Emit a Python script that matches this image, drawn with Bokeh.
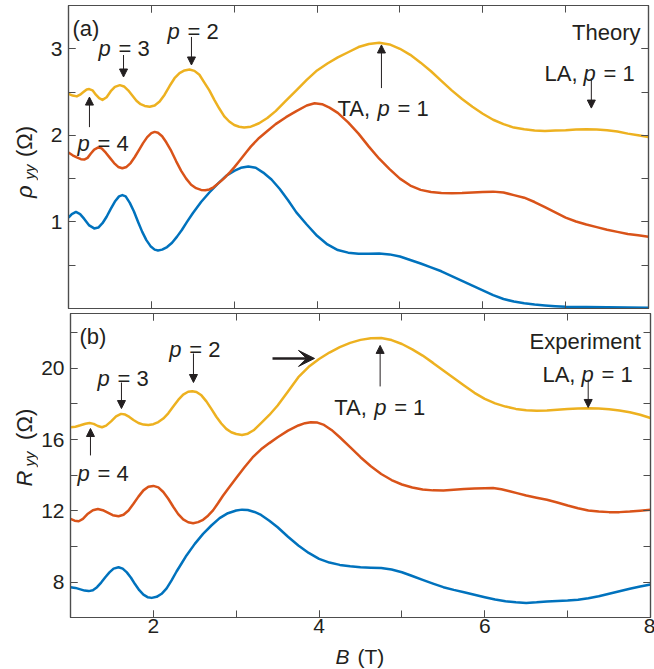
from math import pi
from bokeh.plotting import figure
from bokeh.models import (Range1d, LinearAxis, FixedTicker, Label, Arrow,
                          NormalHead, VeeHead)
from bokeh.layouts import column, row
from bokeh.embed import file_html
from bokeh.resources import INLINE

FONT = "Liberation Sans"
TXT = "#231f20"
AX = "#4d4d4d"
BLUE, RED, YELLOW = "#0072BD", "#D95319", "#EDB120"

# ---------------- data: (a) theory, rho_yy (Ohm) ----------------
th_yel_B = [1.00, 1.05, 1.10, 1.14, 1.18, 1.22, 1.25, 1.29, 1.33, 1.37, 1.41, 1.46, 1.51, 1.56, 1.62,
            1.67, 1.72, 1.77, 1.82, 1.87, 1.92, 1.98, 2.04, 2.10, 2.16, 2.22, 2.28, 2.34, 2.40, 2.46,
            2.52, 2.58, 2.64, 2.70, 2.76, 2.82, 2.88, 2.94, 3.00, 3.06, 3.12, 3.20, 3.30, 3.40, 3.50,
            3.625, 3.75, 3.875, 4.00, 4.125, 4.25, 4.375, 4.50, 4.625, 4.75, 4.875, 5.00, 5.125, 5.25,
            5.375, 5.50, 5.625, 5.75, 5.875, 6.00, 6.125, 6.25, 6.375, 6.50, 6.625, 6.75, 6.875, 7.00,
            7.125, 7.25, 7.375, 7.50, 7.625, 7.75, 7.875, 8.00]
th_yel_R = [2.48, 2.46, 2.45, 2.47, 2.50, 2.53, 2.535, 2.52, 2.47, 2.43, 2.41, 2.44, 2.51, 2.56, 2.58,
            2.565, 2.52, 2.46, 2.40, 2.36, 2.34, 2.33, 2.345, 2.39, 2.47, 2.57, 2.66, 2.72, 2.75, 2.76,
            2.745, 2.70, 2.61, 2.52, 2.41, 2.31, 2.22, 2.16, 2.12, 2.10, 2.09, 2.10, 2.14, 2.20, 2.28,
            2.40, 2.52, 2.64, 2.75, 2.83, 2.90, 2.96, 3.02, 3.055, 3.07, 3.05, 3.00, 2.93, 2.84,
            2.74, 2.63, 2.52, 2.42, 2.33, 2.25, 2.18, 2.13, 2.09, 2.07, 2.055, 2.05, 2.055, 2.06,
            2.068, 2.07, 2.068, 2.06, 2.045, 2.02, 2.00, 1.98]

th_red_B = [1.00, 1.05, 1.10, 1.15, 1.19, 1.23, 1.27, 1.31, 1.36, 1.40, 1.45, 1.50, 1.55, 1.60, 1.65,
            1.70, 1.75, 1.80, 1.85, 1.90, 1.95, 2.00, 2.04, 2.08, 2.13, 2.18, 2.24, 2.30, 2.36, 2.42,
            2.48, 2.54, 2.60, 2.65, 2.70, 2.75, 2.80, 2.85, 2.90, 2.95, 3.00, 3.05, 3.10, 3.15, 3.20,
            3.30, 3.40, 3.50, 3.625, 3.75, 3.875, 3.97, 4.06, 4.15, 4.25, 4.375, 4.50, 4.625, 4.75,
            4.875, 5.00, 5.125, 5.25, 5.375, 5.50, 5.625, 5.75, 5.875, 6.00, 6.125, 6.25, 6.375, 6.50,
            6.625, 6.75, 6.875, 7.00, 7.125, 7.25, 7.375, 7.50, 7.625, 7.75, 7.875, 8.00]
th_red_R = [1.80, 1.77, 1.745, 1.725, 1.72, 1.74, 1.79, 1.835, 1.86, 1.85, 1.80, 1.74, 1.68, 1.635, 1.62,
            1.635, 1.68, 1.75, 1.83, 1.91, 1.98, 2.025, 2.04, 2.03, 1.99, 1.92, 1.82, 1.70, 1.59, 1.50,
            1.43, 1.39, 1.37, 1.365, 1.375, 1.40, 1.44, 1.48, 1.525, 1.575, 1.63, 1.69, 1.75, 1.81, 1.87,
            1.97, 2.05, 2.13, 2.21, 2.28, 2.345, 2.37, 2.36, 2.32, 2.26, 2.15, 2.02, 1.87, 1.73,
            1.61, 1.50, 1.42, 1.37, 1.345, 1.333, 1.33, 1.333, 1.34, 1.347, 1.35, 1.34, 1.31, 1.28,
            1.23, 1.17, 1.11, 1.05, 1.005, 0.97, 0.94, 0.91, 0.885, 0.86, 0.845, 0.83]

th_blu_B = [1.00, 1.04, 1.09, 1.14, 1.19, 1.25, 1.31, 1.36, 1.41, 1.46, 1.51, 1.56, 1.61, 1.65, 1.69,
            1.74, 1.79, 1.84, 1.89, 1.94, 1.99, 2.04, 2.08, 2.13, 2.19, 2.25, 2.31, 2.37, 2.43, 2.50,
            2.60, 2.70, 2.80, 2.90, 3.00, 3.08, 3.17, 3.26, 3.35, 3.45, 3.55, 3.65, 3.75, 3.875, 4.00,
            4.125, 4.25, 4.375, 4.50, 4.625, 4.75, 4.875, 5.00, 5.125, 5.25, 5.375, 5.50, 5.625, 5.75,
            5.875, 6.00, 6.125, 6.25, 6.375, 6.50, 6.625, 6.75, 6.875, 7.00, 7.25, 7.50, 7.75, 8.00]
th_blu_R = [1.05, 1.09, 1.115, 1.09, 1.035, 0.96, 0.925, 0.935, 0.985, 1.06, 1.15, 1.235, 1.295, 1.31, 1.295,
            1.22, 1.12, 1.00, 0.885, 0.79, 0.72, 0.68, 0.67, 0.68, 0.71, 0.76, 0.83, 0.91, 1.00, 1.10,
            1.23, 1.34, 1.44, 1.53, 1.59, 1.625, 1.64, 1.625, 1.57, 1.49, 1.38, 1.25, 1.11, 0.97, 0.84,
            0.74, 0.675, 0.645, 0.632, 0.633, 0.635, 0.625, 0.60, 0.56, 0.52, 0.475, 0.43, 0.375, 0.32,
            0.265, 0.21, 0.155, 0.11, 0.08, 0.06, 0.045, 0.035, 0.027, 0.02, 0.016, 0.014, 0.012, 0.01]

# ---------------- data: (b) experiment, R_yy (Ohm) ----------------
ex_yel_B = [1.00, 1.06, 1.12, 1.18, 1.23, 1.28, 1.33, 1.38, 1.43, 1.49, 1.55, 1.61, 1.66, 1.71, 1.76,
            1.82, 1.88, 1.94, 2.00, 2.06, 2.12, 2.18, 2.24, 2.30, 2.36, 2.42, 2.47, 2.52, 2.58, 2.64,
            2.70, 2.76, 2.82, 2.88, 2.94, 3.00, 3.07, 3.14, 3.21, 3.30, 3.40, 3.50, 3.625, 3.75, 3.875,
            4.00, 4.125, 4.25, 4.375, 4.50, 4.625, 4.75, 4.875, 5.00, 5.125, 5.25, 5.375, 5.50, 5.625,
            5.75, 5.875, 6.00, 6.125, 6.25, 6.375, 6.50, 6.625, 6.75, 6.875, 7.00, 7.125, 7.25, 7.375,
            7.50, 7.625, 7.75, 7.875, 8.00]
ex_yel_R = [16.69, 16.72, 16.80, 16.89, 16.93, 16.88, 16.76, 16.69, 16.78, 17.02, 17.30, 17.44, 17.40,
            17.27, 17.10, 16.93, 16.84, 16.82, 16.86, 16.98, 17.18, 17.47, 17.85, 18.22, 18.52, 18.68,
            18.71, 18.67, 18.48, 18.14, 17.72, 17.28, 16.90, 16.60, 16.41, 16.31, 16.26, 16.33, 16.52,
            16.92, 17.38, 17.91, 18.70, 19.50, 20.08, 20.52, 20.88, 21.18, 21.42, 21.59, 21.68, 21.70,
            21.58, 21.36, 21.06, 20.71, 20.30, 19.87, 19.45, 19.03, 18.62, 18.28, 18.03, 17.85, 17.72,
            17.64, 17.62, 17.63, 17.67, 17.71, 17.74, 17.76, 17.74, 17.70, 17.63, 17.53, 17.39, 17.21]

ex_red_B = [1.00, 1.05, 1.10, 1.15, 1.21, 1.27, 1.33, 1.39, 1.45, 1.51, 1.58, 1.64, 1.70, 1.76, 1.82,
            1.88, 1.94, 2.00, 2.06, 2.12, 2.18, 2.24, 2.30, 2.36, 2.42, 2.48, 2.54, 2.60, 2.66, 2.72,
            2.78, 2.84, 2.90, 2.95, 3.00, 3.10, 3.20, 3.30, 3.40, 3.50, 3.625, 3.75, 3.83, 3.90, 3.98,
            4.06, 4.15, 4.25, 4.375, 4.50, 4.625, 4.75, 4.875, 5.00, 5.125, 5.25, 5.375, 5.50, 5.625,
            5.75, 5.875, 6.00, 6.10, 6.20, 6.30, 6.40, 6.50, 6.625, 6.75, 6.875, 7.00, 7.125, 7.25,
            7.375, 7.50, 7.625, 7.75, 7.875, 8.00]
ex_red_R = [11.55, 11.45, 11.42, 11.55, 11.84, 12.04, 12.11, 12.04, 11.90, 11.76, 11.70, 11.78, 12.02,
            12.40, 12.80, 13.15, 13.35, 13.40, 13.32, 13.06, 12.68, 12.23, 11.82, 11.52, 11.36, 11.31,
            11.37, 11.50, 11.73, 12.03, 12.43, 12.85, 13.23, 13.54, 13.85, 14.45, 15.01, 15.45, 15.80,
            16.13, 16.50, 16.79, 16.92, 16.97, 16.95, 16.82, 16.54, 16.13, 15.58, 15.01, 14.50, 14.07,
            13.73, 13.48, 13.31, 13.20, 13.15, 13.14, 13.18, 13.23, 13.26, 13.27, 13.28, 13.21, 13.10,
            12.98, 12.86, 12.74, 12.62, 12.47, 12.30, 12.15, 12.02, 11.96, 11.93, 11.93, 11.96, 12.01,
            12.06]

ex_blu_B = [1.00, 1.06, 1.12, 1.17, 1.22, 1.27, 1.32, 1.37, 1.42, 1.47, 1.52, 1.58, 1.63, 1.68, 1.73,
            1.78, 1.83, 1.88, 1.93, 1.98, 2.04, 2.10, 2.16, 2.22, 2.28, 2.34, 2.40, 2.50, 2.60, 2.70,
            2.80, 2.90, 3.00, 3.07, 3.14, 3.22, 3.30, 3.40, 3.50, 3.625, 3.75, 3.875, 4.00, 4.125, 4.25,
            4.375, 4.50, 4.625, 4.75, 4.875, 5.00, 5.125, 5.25, 5.375, 5.50, 5.625, 5.75, 5.875, 6.00,
            6.125, 6.25, 6.375, 6.50, 6.625, 6.75, 6.875, 7.00, 7.125, 7.25, 7.375, 7.50, 7.625, 7.75,
            7.875, 8.00]
ex_blu_R = [7.72, 7.68, 7.60, 7.53, 7.50, 7.55, 7.72, 7.98, 8.28, 8.55, 8.76, 8.84, 8.76, 8.55, 8.25,
            7.88, 7.55, 7.30, 7.16, 7.12, 7.18, 7.35, 7.65, 8.10, 8.60, 9.05, 9.50, 10.15, 10.71, 11.18,
            11.59, 11.87, 12.02, 12.07, 12.05, 11.94, 11.77, 11.45, 11.08, 10.55, 10.06, 9.64, 9.31, 9.10,
            8.97, 8.89, 8.84, 8.81, 8.79, 8.71, 8.56, 8.35, 8.13, 7.92, 7.72, 7.57, 7.44, 7.30, 7.16,
            7.03, 6.93, 6.87, 6.84, 6.87, 6.92, 6.95, 6.97, 7.02, 7.10, 7.21, 7.35, 7.49, 7.63, 7.76, 7.87]

# ---------------- ticks ----------------
x_major = [2, 4, 6, 8]
x_minor = [1, 2, 3, 4, 5, 6, 7, 8]
top_major = [1, 2, 3]
top_minor = [0.5, 1, 1.5, 2, 2.5, 3]
bot_major = [8, 12, 16, 20]
bot_minor = [6, 8, 10, 12, 14, 16, 18, 20, 22]


def add_axis(p, side, major, minor, labels):
    ax = LinearAxis(ticker=FixedTicker(ticks=major, minor_ticks=minor))
    ax.major_tick_in = 7
    ax.major_tick_out = 0
    ax.minor_tick_in = 7
    ax.minor_tick_out = 0
    ax.major_tick_line_color = AX
    ax.minor_tick_line_color = AX
    ax.axis_line_color = AX
    ax.axis_line_width = 1.2
    if labels:
        ax.major_label_text_font = FONT
        ax.major_label_text_font_size = "21px"
        ax.major_label_text_color = TXT
        ax.major_label_standoff = 6 if side == "left" else 1
    else:
        ax.major_label_overrides = {t: "" for t in major}
        ax.major_label_text_font_size = "0px"
        ax.major_label_standoff = 0
    p.add_layout(ax, side)


def make_fig(yr, fh, mb_top, mb_bottom):
    p = figure(frame_width=580, frame_height=fh, x_range=Range1d(1, 8), y_range=Range1d(*yr),
               output_backend="svg", toolbar_location=None,
               x_axis_location=None, y_axis_location=None,
               min_border_left=30, min_border_right=5,
               min_border_top=mb_top, min_border_bottom=mb_bottom,
               background_fill_color="white", border_fill_color="white")
    p.grid.visible = False
    p.outline_line_color = AX
    p.outline_line_width = 1.2
    return p


def label_fig(w, h):
    # blank figure whose frame is the whole canvas; coordinates are pixels (y up)
    p = figure(width=w, height=h, x_range=Range1d(0, w), y_range=Range1d(0, h),
               output_backend="svg", toolbar_location=None,
               x_axis_location=None, y_axis_location=None,
               min_border=0, min_border_left=0, min_border_right=0,
               min_border_top=0, min_border_bottom=0,
               background_fill_color="white", border_fill_color="white")
    p.grid.visible = False
    p.outline_line_color = None
    return p


def txt(p, x, y, s, italic=False, size=22, dx=0, align="left", angle=0.0, baseline="alphabetic"):
    p.add_layout(Label(x=x, y=y, text=s, x_offset=dx, text_font=FONT,
                       text_font_style="italic" if italic else "normal",
                       text_font_size=f"{size}px", text_color=TXT, text_align=align,
                       text_baseline=baseline, angle=angle))


def arrow(p, x0, y0, x1, y1, big=False):
    if big:
        head = VeeHead(size=16, fill_color=TXT, line_color=TXT)
        lw = 2.5
    else:
        head = NormalHead(size=8, fill_color=TXT, line_color=TXT, line_width=1)
        lw = 1
    p.add_layout(Arrow(end=head, x_start=x0, y_start=y0, x_end=x1, y_end=y1,
                       line_color=TXT, line_width=lw))


def p_label(p, x, y, num, pre=None, pre_w=0):
    off = 0
    if pre:
        txt(p, x, y, pre.strip())
        off = pre_w
    txt(p, x, y, "p", italic=True, dx=off)
    txt(p, x, y, "= " + num, dx=off + 20)


# ---------------- panel (a) ----------------
p1 = make_fig((0, 3.5), 303, 5, 2)
add_axis(p1, "below", x_major, x_minor, False)
add_axis(p1, "above", x_major, x_minor, False)
add_axis(p1, "left", top_major, top_minor, True)
add_axis(p1, "right", top_major, top_minor, False)
for xs, ys, c in ((th_blu_B, th_blu_R, BLUE), (th_red_B, th_red_R, RED), (th_yel_B, th_yel_R, YELLOW)):
    p1.line(xs, ys, line_color=c, line_width=2.5, line_join="round")

txt(p1, 1.048, 3.24, "(a)")
p_label(p1, 1.362, 3.009, "3")
p_label(p1, 2.195, 3.194, "2")
p_label(p1, 1.109, 1.910, "4")
p_label(p1, 4.246, 2.315, "1", pre="TA,", pre_w=40)
p_label(p1, 6.745, 2.720, "1", pre="LA,", pre_w=39)
txt(p1, 7.903, 3.183, "Theory", align="right")
arrow(p1, 1.664, 2.928, 1.664, 2.674)
arrow(p1, 2.484, 3.137, 2.484, 2.813)
arrow(p1, 1.253, 2.095, 1.253, 2.442)
arrow(p1, 4.777, 2.546, 4.777, 3.044)
arrow(p1, 7.31, 2.662, 7.31, 2.315)

# ---------------- panel (b) ----------------
p2 = make_fig((6.02, 23.07), 304, 3, 25)
add_axis(p2, "below", x_major, x_minor, True)
add_axis(p2, "above", x_major, x_minor, False)
add_axis(p2, "left", bot_major, bot_minor, True)
add_axis(p2, "right", bot_major, bot_minor, False)
for xs, ys, c in ((ex_blu_B, ex_blu_R, BLUE), (ex_red_B, ex_red_R, RED), (ex_yel_B, ex_yel_R, YELLOW)):
    p2.line(xs, ys, line_color=c, line_width=2.5, line_join="round")

txt(p2, 1.109, 21.78, "(b)")
p_label(p2, 2.191, 21.03, "2")
p_label(p2, 1.326, 19.44, "3")
p_label(p2, 1.084, 14.11, "4")
p_label(p2, 4.182, 17.78, "1", pre="TA,", pre_w=40)
p_label(p2, 6.696, 19.65, "1", pre="LA,", pre_w=39)
txt(p2, 7.883, 21.52, "Experiment", align="right")
arrow(p2, 2.484, 20.83, 2.484, 19.20)
arrow(p2, 1.615, 19.20, 1.615, 17.74)
arrow(p2, 1.241, 15.11, 1.241, 16.62)
arrow(p2, 3.438, 20.55, 3.945, 20.55, big=True)
arrow(p2, 4.737, 18.98, 4.737, 21.28)
arrow(p2, 7.248, 19.37, 7.248, 17.80)

# ---------------- axis-title strips ----------------
yl1 = label_fig(38, 310)
txt(yl1, 23.9, 113, "ρ", italic=True, angle=pi / 2, baseline="middle")
txt(yl1, 29.0, 132, "yy", italic=True, size=15, angle=pi / 2, baseline="middle")
txt(yl1, 23.9, 155, "(Ω)", angle=pi / 2, baseline="middle")

yl2 = label_fig(38, 333)
txt(yl2, 23.9, 144, "R", italic=True, angle=pi / 2, baseline="middle")
txt(yl2, 29.0, 166, "yy", italic=True, size=15, angle=pi / 2, baseline="middle")
txt(yl2, 23.9, 195, "(Ω)", angle=pi / 2, baseline="middle")

xl = label_fig(653, 26)
txt(xl, 335, 13.5, "B", italic=True, size=21, baseline="middle")
txt(xl, 357, 13.5, "(T)", size=21, baseline="middle")

layout = column(row(yl1, p1), row(yl2, p2), xl)
open("out.html", "w").write(file_html(layout, INLINE))
